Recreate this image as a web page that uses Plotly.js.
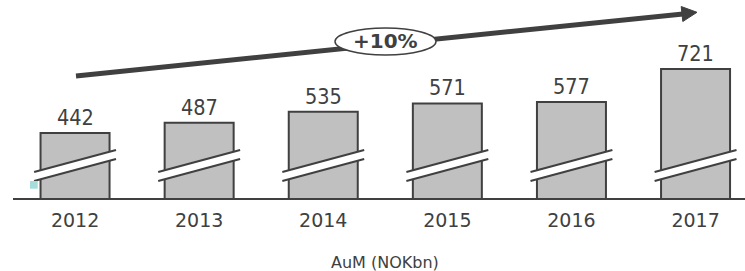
<!DOCTYPE html>
<html>
<head>
<meta charset="utf-8">
<script src="https://cdn.plot.ly/plotly-3.0.1.min.js"></script>
<style>html,body{margin:0;padding:0;background:#fff;}#chart{width:745px;height:271px;}</style>
</head>
<body>
<div id="chart"></div>
<script>
// ---- data ----
const years = ["2012", "2013", "2014", "2015", "2016", "2017"];
const aum = [442, 487, 535, 571, 577, 721];
const growthLabel = "+10%";
const axisTitle = "AuM (NOKbn)";

const dark = "#404040";
const W = 745, H = 271, L = 13, B = 73;
const plotW = W - L, plotH = H - B;
// helpers converting pixel positions to paper coords (decorations only)
const px = x => (x - L) / plotW;
const py = y => (plotH - y) / plotH;

const shapes = [];
// break marks on each bar
years.forEach((c, i) => {
  const x0 = i - 0.33, x1 = i + 0.33;
  shapes.push({type: "path", xref: "x", yref: "paper",
    path: `M ${x0},${py(172)} L ${x1},${py(150)} L ${x1},${py(159)} L ${x0},${py(181)} Z`,
    fillcolor: "#ffffff", line: {width: 0}});
  shapes.push({type: "line", xref: "x", yref: "paper", x0: x0, x1: x1, y0: py(172), y1: py(150),
    line: {color: dark, width: 2}});
  shapes.push({type: "line", xref: "x", yref: "paper", x0: x0, x1: x1, y0: py(181), y1: py(159),
    line: {color: dark, width: 2}});
});
// small teal square
shapes.push({type: "rect", xref: "paper", yref: "paper", x0: px(30), x1: px(37.7), y0: py(188.7), y1: py(181),
  fillcolor: "#a6dcd9", line: {width: 0}});
// growth arrow
shapes.push({type: "line", xref: "paper", yref: "paper", x0: px(76), y0: py(76), x1: px(683), y1: py(13.9),
  line: {color: dark, width: 5}});
shapes.push({type: "path", xref: "paper", yref: "paper",
  path: `M ${px(697)},${py(12.3)} L ${px(682.8)},${py(21.5)} L ${px(681.2)},${py(6.5)} Z`,
  fillcolor: dark, line: {color: dark, width: 1}});
// ellipse
shapes.push({type: "circle", xref: "paper", yref: "paper", x0: px(335), x1: px(436), y0: py(55), y1: py(28),
  fillcolor: "#ffffff", line: {color: dark, width: 1.5}});

const annotations = years.map((c, i) => ({
  x: i, y: aum[i], xref: "x", yref: "y", text: String(aum[i]), showarrow: false,
  yanchor: "bottom", yshift: 1,
  font: {family: "DejaVu Sans Condensed, DejaVu Sans, sans-serif", size: 21.5, color: dark}
}));
annotations.push({x: px(385.5), y: py(41.5), xref: "paper", yref: "paper", text: "<b>" + growthLabel + "</b>",
  showarrow: false, xanchor: "center", yanchor: "middle",
  font: {family: "DejaVu Sans, sans-serif", size: 20, color: dark}});
annotations.push({x: px(385), y: py(262), xref: "paper", yref: "paper", text: axisTitle,
  showarrow: false, xanchor: "center", yanchor: "middle",
  font: {family: "DejaVu Sans, sans-serif", size: 16, color: dark}});

const trace = {
  type: "bar", x: years, y: aum, width: 0.556,
  marker: {color: "#c0c0c0", line: {color: dark, width: 2}},
  hoverinfo: "none"
};

const layout = {
  width: W, height: H,
  margin: {l: L, r: 0, t: 0, b: B},
  paper_bgcolor: "#ffffff", plot_bgcolor: "#ffffff",
  showlegend: false,
  xaxis: {type: "category", range: [-0.5, -0.5 + plotW / 124.1], showline: true, linecolor: dark, linewidth: 2,
    ticks: "", showgrid: false, zeroline: false, ticklabelstandoff: 4,
    tickfont: {family: "DejaVu Sans, sans-serif", size: 19, color: dark}},
  yaxis: {visible: false, range: [158.6, 1021.8], showgrid: false, zeroline: false},
  shapes: shapes,
  annotations: annotations
};

Plotly.newPlot("chart", [trace], layout, {staticPlot: true, displayModeBar: false});
</script>
</body>
</html>
